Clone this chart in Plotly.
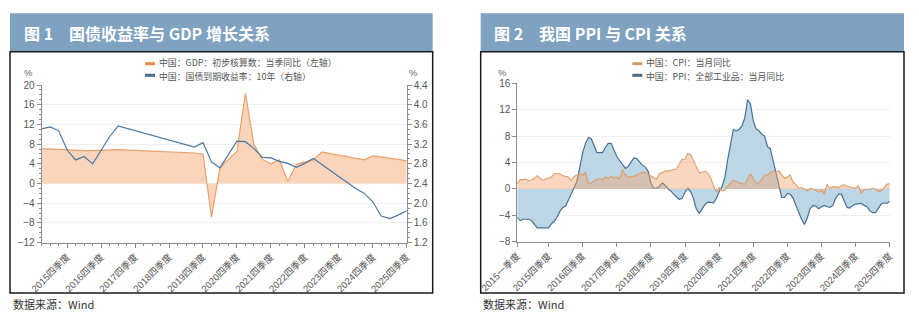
import plotly.graph_objects as go

W, H = 919, 322

# ---------------- data: Figure 1 (quarterly, 2015Q1 .. 2025Q4) ----------------
quarters = [f"{y}Q{q}" for y in range(2015, 2026) for q in range(1, 5)]
gdp_yoy = [7.1, 7.0, 6.9, 6.8, 6.8, 6.7, 6.7, 6.8, 6.9, 6.9,
           None, None, None, None, None, None, None, None,
           6.2, 6.0, -6.8, 3.2, 4.9, 6.5, 18.3, 7.9, 4.9, 4.0, 4.8, 0.4,
           3.9, 4.3, 4.8, 6.4,
           None, None, None, None,
           4.8, 5.6, 5.4, 5.2, 4.9, 4.6]
bond_10y = [3.51, 3.55, 3.47, 3.08, 2.88, 2.95, 2.80, 3.08, 3.35, 3.57,
            None, None, None, None, None, None, None, None,
            3.14, 3.23, 2.84, 2.72, 2.98, 3.26, 3.25, 3.11, 2.93, 2.92, 2.85, 2.81,
            2.73, 2.81, 2.91,
            None, None, None, None,
            2.30, 2.20, 2.03, 1.74, 1.69, 1.76, 1.85]
q_tick_idx = [3, 7, 11, 15, 19, 23, 27, 31, 35, 39, 43]
q_tick_text = ["2015四季度", "2016四季度", "2017四季度", "2018四季度", "2019四季度",
               "2020四季度", "2021四季度", "2022四季度", "2023四季度", "2024四季度",
               "2025四季度"]

# ---------------- data: Figure 2 (monthly, 2015-01 .. 2025-12) ----------------
cpi_yoy = [0.8, 1.4, 1.4, 1.5, 1.2, 1.4, 1.6, 2.0, 1.6, 1.3, 1.5, 1.6,
           1.8, 2.3, 2.3, 2.3, 2.0, 1.9, 1.8, 1.3, 1.9, 2.1, 2.3, 2.1,
           2.5, 0.8, 0.9, 1.2, 1.5, 1.5, 1.4, 1.8, 1.6, 1.9, 1.7, 1.8,
           1.5, 2.9, 2.1, 1.8, 1.8, 1.9, 2.1, 2.3, 2.5, 2.5, 2.2, 1.9,
           1.7, 1.5, 2.3, 2.5, 2.7, 2.7, 2.8, 2.8, 3.0, 3.8, 4.5, 4.5,
           5.4, 5.2, 4.3, 3.3, 2.4, 2.5, 2.7, 2.4, 1.7, 0.5, -0.5, 0.2,
           -0.3, -0.2, 0.4, 0.9, 1.3, 1.1, 1.0, 0.8, 0.7, 1.5, 2.3, 1.5,
           0.9, 0.9, 1.5, 2.1, 2.1, 2.5, 2.7, 2.5, 2.8, 2.1, 1.6, 1.8,
           2.1, 1.0, 0.7, 0.1, 0.2, 0.0, -0.3, 0.1, 0.0, -0.2, -0.5, -0.3,
           -0.8, 0.7, 0.1, 0.3, 0.3, 0.2, 0.5, 0.6, 0.4, 0.3, 0.2, 0.1,
           0.5, -0.7, -0.1, -0.1, -0.1, 0.1, 0.0, -0.4, -0.3, 0.2, 0.7, 0.8]
ppi_yoy = [-4.3, -4.8, -4.6, -4.6, -4.6, -4.8, -5.4, -5.9, -5.9, -5.9, -5.9, -5.9,
           -5.3, -4.9, -4.3, -3.4, -2.8, -2.6, -1.7, -0.8, 0.1, 1.2, 3.3, 5.5,
           6.9, 7.8, 7.6, 6.4, 5.5, 5.5, 5.5, 6.3, 6.9, 6.9, 5.8, 4.9,
           4.3, 3.7, 3.1, 3.4, 4.1, 4.7, 4.6, 4.1, 3.6, 3.3, 2.7, 0.9,
           0.1, 0.1, 0.4, 0.9, 0.6, 0.0, -0.3, -0.8, -1.2, -1.6, -1.4, -0.5,
           0.1, -0.4, -1.5, -3.1, -3.7, -3.0, -2.4, -2.0, -2.1, -2.1, -1.5, -0.4,
           0.3, 1.7, 4.4, 6.8, 9.0, 8.8, 9.0, 9.5, 10.7, 13.5, 12.9, 10.3,
           9.1, 8.8, 8.3, 8.0, 6.4, 6.1, 4.2, 2.3, 0.9, -1.3, -1.3, -0.7,
           -0.8, -1.4, -2.5, -3.6, -4.6, -5.4, -4.4, -3.0, -2.5, -2.6, -3.0, -2.7,
           -2.5, -2.7, -2.8, -2.5, -1.4, -0.8, -0.8, -1.8, -2.8, -2.9, -2.5, -2.3,
           -2.3, -2.2, -2.5, -2.7, -3.3, -3.6, -3.6, -2.9, -2.3, -2.1, -2.2, -1.9]
m_tick_idx = [0, 11, 23, 35, 47, 59, 71, 83, 95, 107, 119, 131]
m_tick_text = ["2015一季度", "2015四季度", "2016四季度", "2017四季度", "2018四季度",
               "2019四季度", "2020四季度", "2021四季度", "2022四季度", "2023四季度",
               "2024四季度", "2025四季度"]


def px(x):
    return x / W


def py(y):
    return 1 - y / H


CJK = "Noto Sans CJK SC, sans-serif"
NUM = "Liberation Sans, Noto Sans CJK SC, sans-serif"
TICK = dict(family=NUM, size=10, color="#555555")
BAR = "#7ea2bf"
AX = "#8c8c8c"

fig = go.Figure()

# Figure 1 traces
fig.add_trace(go.Scatter(
    x=list(range(len(quarters))), y=gdp_yoy, mode="lines", connectgaps=True,
    fill="tozeroy", fillcolor="#fad5bb", line=dict(color="#e9a06c", width=1.2),
    xaxis="x", yaxis="y", showlegend=False, hoverinfo="skip"))
fig.add_trace(go.Scatter(
    x=list(range(len(quarters))), y=bond_10y, mode="lines", connectgaps=True,
    line=dict(color="#4a78a2", width=1.2),
    xaxis="x", yaxis="y2", showlegend=False, hoverinfo="skip"))

# Figure 2 traces
months = list(range(len(cpi_yoy)))
fig.add_trace(go.Scatter(
    x=months, y=ppi_yoy, mode="lines", fill="tozeroy", fillcolor="#bdd6e6",
    line=dict(color="#46708f", width=1.2),
    xaxis="x2", yaxis="y3", showlegend=False, hoverinfo="skip"))
fig.add_trace(go.Scatter(
    x=months, y=cpi_yoy, mode="lines", fill="tozeroy",
    fillcolor="rgba(240,165,112,0.45)", line=dict(color="#dc9e6c", width=1.1),
    xaxis="x2", yaxis="y3", showlegend=False, hoverinfo="skip"))

common_y = dict(showline=True, linecolor=AX, linewidth=1, ticks="outside",
                ticklen=4, tickcolor=AX, tickfont=TICK, zeroline=False,
                automargin=False)
common_x = dict(showline=True, linecolor=AX, linewidth=1, ticks="outside",
                ticklen=4, tickcolor=AX, tickangle=-45,
                tickfont=dict(family=NUM, size=9.5, color="#555555"),
                showgrid=False, zeroline=False, automargin=False)

fig.update_layout(
    width=W, height=H, margin=dict(l=0, r=0, t=0, b=0, autoexpand=False),
    paper_bgcolor="white", plot_bgcolor="white",
    xaxis=dict(domain=[px(41.7), px(406.7)], anchor="y", range=[0, 43],
               tickmode="array", tickvals=q_tick_idx, ticktext=q_tick_text,
               minor=dict(ticks="outside", ticklen=2, tickcolor=AX,
                          tick0=0, dtick=1, showgrid=False),
               **common_x),
    yaxis=dict(domain=[py(242.7), py(85)], range=[-12, 20], tick0=0, dtick=4,
               showgrid=True, gridcolor="#efefef", gridwidth=1,
               minor=dict(ticks="outside", ticklen=2, tickcolor=AX,
                          tick0=0, dtick=1, showgrid=False),
               **common_y),
    yaxis2=dict(overlaying="y", side="right", anchor="x", range=[1.2, 4.4],
                tick0=1.2, dtick=0.4, tickformat=".1f", showgrid=False,
                minor=dict(ticks="outside", ticklen=2, tickcolor=AX,
                           tick0=1.2, dtick=0.1, showgrid=False),
                **common_y),
    xaxis2=dict(domain=[px(517.3), px(889.7)], anchor="y3", range=[0, 131],
                tickmode="array", tickvals=m_tick_idx, ticktext=m_tick_text,
                **common_x),
    yaxis3=dict(domain=[py(241.7), py(83.3)], anchor="x2", range=[-8, 16],
                tick0=0, dtick=4, showgrid=True, gridcolor="#efefef",
                **common_y),
)

shapes = []
annotations = []

# Panel frames and title bars
for x0, x1, title in [(10, 432.7, "图 1　国债收益率与 GDP 增长关系"),
                      (480.7, 904, "图 2　我国 PPI 与 CPI 关系")]:
    shapes.append(dict(type="rect", xref="paper", yref="paper",
                       x0=px(x0), x1=px(x1), y0=py(51.7), y1=py(13.3),
                       fillcolor=BAR, line=dict(width=0), layer="below"))
    shapes.append(dict(type="rect", xref="paper", yref="paper",
                       x0=px(x0), x1=px(x1), y0=py(293), y1=py(51.7),
                       fillcolor="rgba(0,0,0,0)",
                       line=dict(color="#1a1a1a", width=1.5)))
    annotations.append(dict(text=title, xref="paper", yref="paper",
                            x=px(x0 + 11.5), y=py(33), xanchor="left",
                            yanchor="middle", showarrow=False,
                            font=dict(family=CJK, size=16, color="white",
                                      weight="bold")))
    annotations.append(dict(text="数据来源：Wind", xref="paper", yref="paper",
                            x=px(x0 + 0.5), y=py(303.5), xanchor="left",
                            yanchor="middle", showarrow=False,
                            font=dict(family=CJK, size=11, color="#333333")))

# Legends: short colour key followed by its caption
legend_items = [
    (145, 63.7, 63.0, "#e9884a", "中国：GDP：初步核算数：当季同比（左轴）"),
    (145, 75.3, 76.0, "#3f6f8f", "中国：国债到期收益率：10年（右轴）"),
    (632.3, 63.7, 63.0, "#c9a06c", "中国：CPI：当月同比"),
    (632.3, 75.3, 76.0, "#4a6a84", "中国：PPI：全部工业品：当月同比"),
]
for lx, ly, ty, col, txt in legend_items:
    shapes.append(dict(type="line", xref="paper", yref="paper",
                       x0=px(lx), x1=px(lx + 10), y0=py(ly), y1=py(ly),
                       line=dict(color=col, width=3)))
    annotations.append(dict(text=txt, xref="paper", yref="paper",
                            x=px(lx + 13), y=py(ty), xanchor="left",
                            yanchor="middle", showarrow=False, borderpad=0,
                            font=dict(family=CJK, size=8.9, color="#555555")))

# Unit labels
for ux in (28.5, 413.5, 502.5):
    annotations.append(dict(text="%", xref="paper", yref="paper",
                            x=px(ux), y=py(72.7), xanchor="center",
                            yanchor="middle", showarrow=False,
                            font=dict(family=NUM, size=9.5, color="#666666")))

fig.update_layout(shapes=shapes, annotations=annotations)
fig.write_html("out.html")
